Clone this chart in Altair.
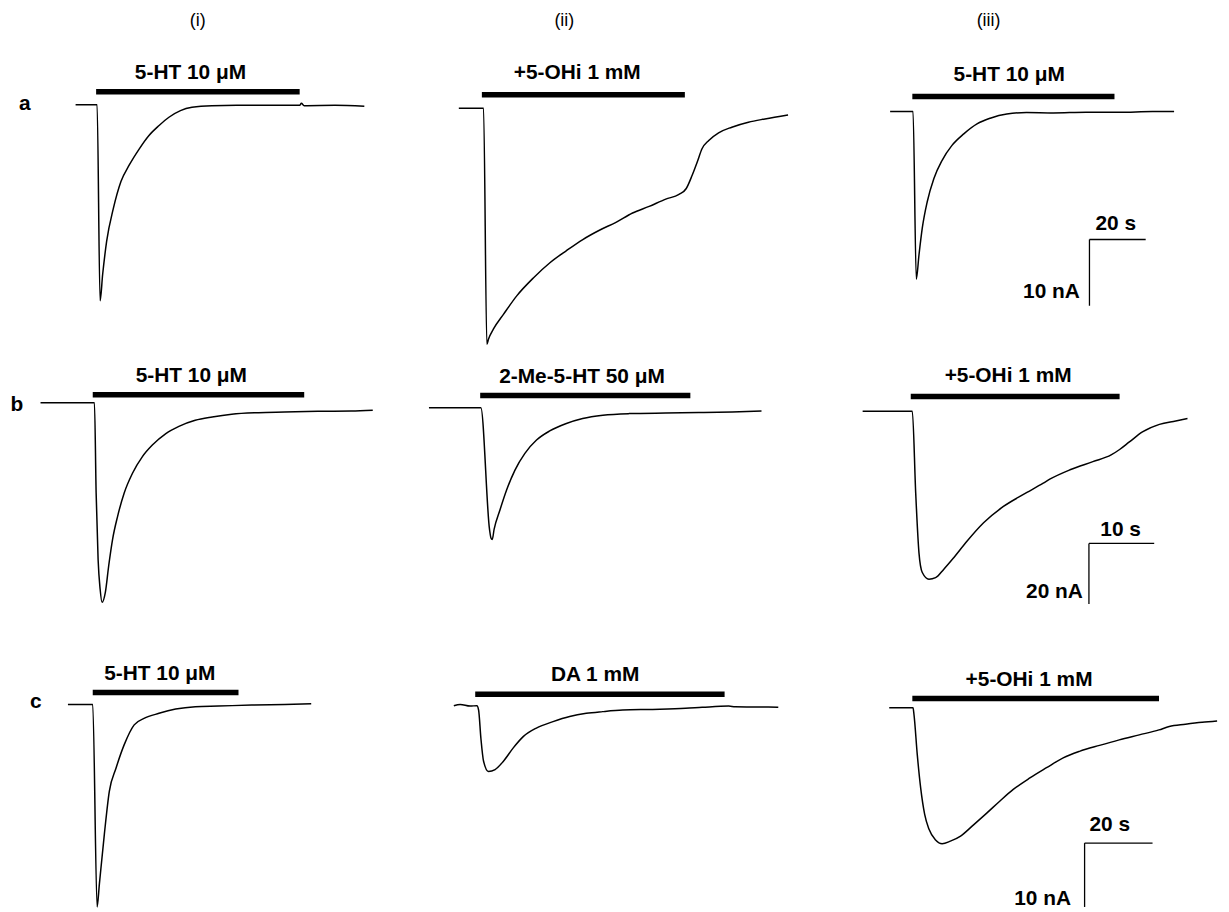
import altair as alt
import pandas as pd

# ---------------- data: time (s, 0 = drug onset) and current (nA) ----------------
a1_t = [-7.3, 0.35, 1.41, 2.33, 3.75, 6.11, 8.83, 11.8, 15.3, 18.8, 22.4, 25.9, 30.0, 34.1, 41.2, 50.0, 60.1, 72.4, 73.0, 74.0, 85.0, 95.4]
a1_i = [0, 0, -29.6, -25.6, -20.6, -15.7, -11.6, -9.1, -6.7, -4.65, -3.15, -1.9, -0.9, -0.4, -0.15, -0.1, -0.1, -0.1, 0.2, -0.15, -0.1, -0.25]

a2_t = [-8.2, 0.6, 1.77, 2.37, 4.13, 7.67, 12.4, 18.3, 24.2, 30.0, 35.9, 41.8, 47.7, 53.6, 59.5, 65.4, 70.1, 72.7, 74.8, 76.6, 78.3, 80.7, 84.2, 88.9, 94.8, 100.7, 108.9]
a2_i = [0, 0, -35.6, -34.8, -33.3, -31.1, -28.3, -25.6, -23.3, -21.5, -19.8, -18.4, -17.2, -15.8, -14.8, -13.7, -13.0, -12.1, -10.1, -8.1, -6.1, -4.85, -3.7, -2.85, -2.1, -1.6, -1.0]

a3_t = [-7.9, 0.25, 1.41, 2.37, 3.53, 5.3, 7.67, 10.6, 14.1, 18.3, 23.0, 27.7, 33.6, 40.6, 50.1, 61.8, 73.6, 85.4, 93.1]
a3_i = [0, 0, -25.3, -21.6, -17.6, -13.6, -10.1, -7.35, -5.1, -3.36, -1.86, -1.0, -0.36, -0.15, -0.2, -0.1, -0.1, 0, 0]

b1_t = [-8.0, 0.26, 0.52, 0.82, 1.13, 1.43, 1.93, 2.44, 3.04, 3.81, 4.82, 6.09, 7.61, 9.13, 11.2, 13.2, 15.7, 18.3, 21.3, 25.4, 29.4, 34.5, 39.6, 42.9]
b1_i = [0, 0, -29.8, -51.7, -61.5, -65.9, -62.6, -53.9, -45.1, -37.5, -29.8, -23.3, -17.8, -14.0, -10.2, -7.8, -5.8, -4.7, -3.8, -3.3, -3.1, -2.85, -2.75, -2.5]

b2_t = [-7.85, 0.1, 1.43, 1.65, 1.85, 2.13, 3.04, 4.06, 5.33, 6.85, 8.63, 10.65, 13.2, 15.7, 18.8, 22.8, 28.4, 33.5, 38.6, 43.1]
b2_i = [0, 0, -40.2, -43.0, -43.5, -40.2, -33.7, -27.1, -20.6, -15.1, -10.7, -7.7, -5.25, -3.6, -2.5, -1.97, -1.77, -1.64, -1.44, -1.1]

b3_t = [-7.37, 0.24, 0.76, 1.26, 1.77, 2.79, 3.81, 5.07, 6.59, 8.61, 11.16, 14.2, 17.2, 20.3, 21.3, 24.4, 27.9, 30.7, 32.0, 33.5, 35.5, 38.1, 40.6, 42.4]
b3_i = [0, 0, -27.0, -46.7, -53.2, -55.4, -54.9, -52.1, -48.3, -42.9, -36.8, -31.4, -27.5, -23.7, -22.4, -19.3, -16.6, -14.4, -12.6, -10.1, -6.8, -4.3, -3.2, -2.4]

c1_t = [-7.3, 0, 1.29, 1.96, 3.42, 4.88, 6.84, 9.27, 12.2, 15.1, 19.5, 24.4, 30.2, 37.0, 46.8, 56.5, 64.3]
c1_i = [0, 0, -31.7, -28.1, -20.3, -13.6, -10.0, -6.3, -3.2, -2.2, -1.4, -0.73, -0.36, -0.26, -0.1, 0, 0.1]

c2_t = [-6.3, -4.4, -1.5, 0.5, 1.0, 1.67, 2.46, 3.9, 5.85, 8.3, 11.2, 14.2, 18.0, 22.9, 27.8, 32.7, 37.5, 43.4, 52.2, 61.9, 66.8, 74.6, 76.5, 86.3, 89.2]
c2_i = [0, 0.2, -0.06, 0, -0.7, -5.1, -8.7, -10.3, -10.0, -8.7, -6.6, -4.8, -3.5, -2.5, -1.7, -1.2, -0.93, -0.68, -0.58, -0.42, -0.26, -0.06, -0.16, -0.22, -0.26]

c3_t = [-6.8, 0.2, 0.5, 1.46, 2.46, 3.63, 4.88, 6.84, 8.77, 11.2, 14.2, 18.1, 21.9, 25.8, 29.7, 34.6, 39.5, 44.4, 49.2, 55.1, 60.9, 66.8, 72.6, 75.6, 80.4, 85.3, 89.7]
c3_i = [0, 0, -1.15, -7.4, -12.6, -16.7, -19.0, -20.7, -21.3, -20.9, -20.1, -18.3, -16.5, -14.6, -12.8, -11.0, -9.4, -7.86, -6.84, -5.9, -5.04, -4.26, -3.48, -2.95, -2.6, -2.29, -2.08]

traces = [[(a1_t, a1_i), (a2_t, a2_i), (a3_t, a3_i)],
          [(b1_t, b1_i), (b2_t, b2_i), (b3_t, b3_i)],
          [(c1_t, c1_i), (c2_t, c2_i), (c3_t, c3_i)]]

drug_labels = [["5-HT 10 \u03bcM", "+5-OHi 1 mM", "5-HT 10 \u03bcM"],
               ["5-HT 10 \u03bcM", "2-Me-5-HT 50 \u03bcM", "+5-OHi 1 mM"],
               ["5-HT 10 \u03bcM", "DA 1 mM", "+5-OHi 1 mM"]]
drug_end_s = [[72.4, 72.2, 71.9],
              [32.4, 32.2, 32.0],
              [42.9, 73.4, 72.6]]

col_labels = ["(i)", "(ii)", "(iii)"]
row_labels = ["a", "b", "c"]

# scale bars (one per row, drawn in column iii): corner (s, nA), lengths
sb_corner = [(63.0, -19.3), (27.3, -43.6), (50.7, -21.2)]
sb_len_s = [20, 10, 20]
sb_len_na = [10, 20, 10]

# ---------------- layout (page pixels) ----------------
W = 406
COL_LEFT = [8, 8 + W, 8 + 2 * W]
ROW_TOP = [8, 350, 618]
ROW_H = [342, 268, 292]
PX_PER_S = [2.83, 6.57, 3.42]
PX_PER_NA = [6.67, 3.05, 6.43]
ANCHOR = [[(96.7, 102.3), (485.0, 106.0), (918.3, 109.3)],
          [(93.3, 402.3), (483.3, 407.3), (916.7, 411.0)],
          [(93.3, 706.0), (478.3, 707.3), (918.3, 709.3)]]
BAR_Y = [[89.3, 92.3, 94.0], [394.3, 395.0, 396.0], [694.0, 695.7, 700.0]]
LABEL_XY = [[(191.7, 70), (581, 70), (1015.8, 73)],
            [(192.5, 375), (585.8, 376.5), (1014.7, 375)],
            [(160.8, 675), (599, 676), (1035.8, 681.5)]]
COL_HEAD_XY = [(199, 18), (568, 18), (995, 18)]
ROW_LETTER_XY = [(25, 102), (17, 405), (36, 704)]
SB_S_LABEL = [(1123, 222), (1128, 530), (1117, 827)]
SB_NA_LABEL = [(1087, 291), (1090, 593), (1078, 902)]

FONT = "Liberation Sans"


def text_layer(txt, px, py, left, top, size=21, weight="bold", align="center"):
    return alt.Chart(pd.DataFrame({"s": [txt]})).mark_text(
        font=FONT, fontSize=size, fontWeight=weight, align=align,
        baseline="middle", color="black"
    ).encode(text="s:N", x=alt.value(px - left), y=alt.value(py - top))


def panel(r, c):
    left, top, H = COL_LEFT[c], ROW_TOP[r], ROW_H[r]
    pxs, pxn = PX_PER_S[r], PX_PER_NA[r]
    ax, ay = ANCHOR[r][c]
    xs = alt.Scale(domain=[(left - ax) / pxs, (left + W - ax) / pxs], nice=False, zero=False)
    ys = alt.Scale(domain=[(ay - top - H) / pxn, (ay - top) / pxn], nice=False, zero=False)

    t, i = traces[r][c]
    df = pd.DataFrame({"t": t, "I": i, "k": range(len(t))})
    trace = alt.Chart(df).mark_line(color="black", strokeWidth=1.5, interpolate="monotone").encode(
        x=alt.X("t:Q", scale=xs, axis=None),
        y=alt.Y("I:Q", scale=ys, axis=None),
        order="k:Q",
    )
    bar = alt.Chart(pd.DataFrame({"t0": [0.0], "t1": [drug_end_s[r][c]]})).mark_rule(
        color="black", strokeWidth=5.5
    ).encode(
        x=alt.X("t0:Q", scale=xs, axis=None), x2="t1:Q",
        y=alt.value(BAR_Y[r][c] - top),
    )
    lx, ly = LABEL_XY[r][c]
    layers = [trace, bar, text_layer(drug_labels[r][c], lx, ly, left, top)]

    if r == 0:
        hx, hy = COL_HEAD_XY[c]
        layers.append(text_layer(col_labels[c], hx, hy, left, top, size=18, weight="normal"))
    if c == 0:
        rx, ry = ROW_LETTER_XY[r]
        layers.append(text_layer(row_labels[r], rx, ry, left, top, size=21, weight="bold"))
    if c == 2:
        tc, ic = sb_corner[r]
        sb = pd.DataFrame({"t0": [tc, tc], "t1": [tc + sb_len_s[r], tc],
                           "i0": [ic, ic], "i1": [ic, ic - sb_len_na[r]]})
        layers.append(alt.Chart(sb).mark_rule(color="black", strokeWidth=1.3).encode(
            x=alt.X("t0:Q", scale=xs, axis=None), x2="t1:Q",
            y=alt.Y("i0:Q", scale=ys, axis=None), y2="i1:Q"))
        sx, sy = SB_S_LABEL[r]
        layers.append(text_layer(f"{sb_len_s[r]} s", sx, sy, left, top))
        nx, ny = SB_NA_LABEL[r]
        layers.append(text_layer(f"{sb_len_na[r]} nA", nx, ny, left, top, align="right"))

    return alt.layer(*layers).properties(width=W, height=H)


panels = [panel(r, c) for r in range(3) for c in range(3)]
chart = alt.concat(*panels, columns=3, spacing=0).properties(
    padding=0, bounds="flush", background="white"
).configure_view(stroke=None)

chart.save("out.html", embed_options={"renderer": "svg", "actions": False})
